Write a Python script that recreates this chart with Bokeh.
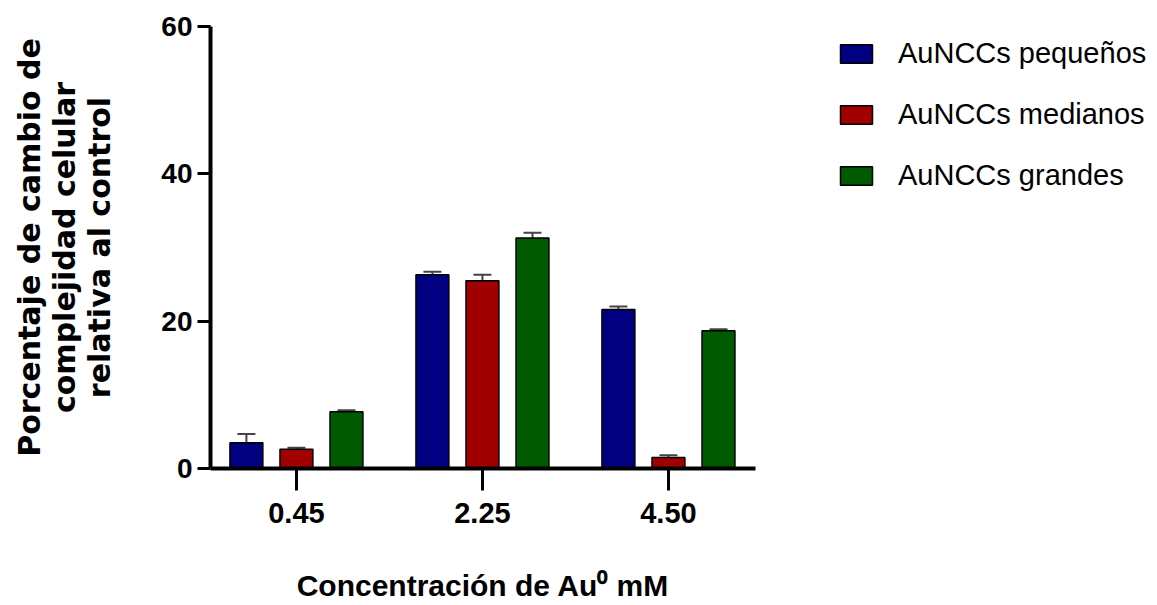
from bokeh.plotting import figure
from bokeh.layouts import row
from bokeh.models import (ColumnDataSource, Range1d, FixedTicker, Whisker,
                          Legend, LegendItem, TeeHead)
from bokeh.embed import file_html
from bokeh.resources import INLINE

categories = ["0.45", "2.25", "4.50"]
series_names = ["AuNCCs pequeños", "AuNCCs medianos", "AuNCCs grandes"]
pequenos = [3.5, 26.3, 21.6]
pequenos_err = [1.2, 0.4, 0.4]
medianos = [2.6, 25.5, 1.5]
medianos_err = [0.2, 0.8, 0.3]
grandes = [7.7, 31.3, 18.7]
grandes_err = [0.2, 0.7, 0.2]
y_ticks = [0, 20, 40, 60]

colors = ["#000080", "#a00000", "#005a00"]
offsets = [-0.269, 0.0, 0.269]
bar_w = 0.177

H = 605
p = figure(width=760, height=H, output_backend="svg", toolbar_location=None,
           x_range=Range1d(-0.462, 2.468), y_range=Range1d(0, 60),
           min_border_left=210, min_border_right=5, min_border_top=26,
           min_border_bottom=137)
p.outline_line_color = None
p.xgrid.grid_line_color = None
p.ygrid.grid_line_color = None
p.background_fill_color = "white"
p.border_fill_color = "white"

font = "Liberation Sans"

p.yaxis.ticker = FixedTicker(ticks=y_ticks)
p.yaxis.minor_tick_line_color = None
p.yaxis.major_tick_out = 13
p.yaxis.major_tick_in = 0
p.yaxis.major_tick_line_width = 3
p.yaxis.axis_line_width = 4
p.yaxis.major_label_text_font = font
p.yaxis.major_label_text_font_style = "bold"
p.yaxis.major_label_text_font_size = "28px"
p.yaxis.major_label_text_color = "black"
p.yaxis.major_label_standoff = 5
p.yaxis.axis_label = "Porcentaje de cambio de\ncomplejidad celular\nrelativa al control"
p.yaxis.axis_label_text_font = "DejaVu Sans"
p.yaxis.axis_label_text_font_style = "bold"
p.yaxis.axis_label_text_font_size = "30px"
p.yaxis.axis_label_text_line_height = 1.0
p.yaxis.axis_label_text_color = "black"
p.yaxis.axis_label_standoff = 41

p.xaxis.ticker = FixedTicker(ticks=list(range(len(categories))))
p.xaxis.major_label_overrides = {i: c for i, c in enumerate(categories)}
p.xaxis.minor_tick_line_color = None
p.xaxis.major_tick_out = 22
p.xaxis.major_tick_in = 0
p.xaxis.major_tick_line_width = 3
p.xaxis.axis_line_width = 4
p.xaxis.major_label_text_font = font
p.xaxis.major_label_text_font_style = "bold"
p.xaxis.major_label_text_font_size = "29px"
p.xaxis.major_label_text_color = "black"
p.xaxis.major_label_standoff = 12
p.xaxis.axis_label = "Concentración de Au\u2070 mM"
p.xaxis.axis_label_text_font = font
p.xaxis.axis_label_text_font_style = "bold"
p.xaxis.axis_label_text_font_size = "30px"
p.xaxis.axis_label_text_color = "black"
p.xaxis.axis_label_standoff = 43

series = [(pequenos, pequenos_err), (medianos, medianos_err), (grandes, grandes_err)]

# legend panel: a second figure sharing the series sources, showing only the legend
q = figure(width=397, height=H, output_backend="svg", toolbar_location=None,
           x_range=Range1d(0, 1), y_range=Range1d(0, 1),
           min_border_left=0, min_border_right=0, min_border_top=0,
           min_border_bottom=0)
q.axis.visible = False
q.grid.visible = False
q.outline_line_color = None

items = []
for (vals, errs), name, col, off in zip(series, series_names, colors, offsets):
    xs = [i + off for i in range(len(categories))]
    src = ColumnDataSource(dict(x=xs, top=vals, upper=[v + e for v, e in zip(vals, errs)]))
    p.vbar(x="x", top="top", width=bar_w, bottom=0, source=src,
           fill_color=col, line_color="black", line_width=1.5)
    wk = Whisker(base="x", upper="upper", lower="top", source=src,
                 line_color="#444444", line_width=2,
                 upper_head=TeeHead(size=18, line_color="#444444", line_width=2),
                 lower_head=None)
    p.add_layout(wk)
    key = q.vbar(x="x", top="top", width=bar_w, bottom=0, source=src,
                 fill_color=col, line_color="black", line_width=1.5, visible=False)
    items.append(LegendItem(label=name, renderers=[key]))

legend = Legend(items=items, location=(76, 276), orientation="vertical",
                glyph_width=40, glyph_height=23, label_height=23,
                label_standoff=22, spacing=28, padding=0, margin=0,
                border_line_color=None, background_fill_alpha=0,
                inactive_fill_alpha=0,
                label_text_font=font, label_text_font_size="29px",
                label_text_color="black")
q.add_layout(legend, "center")

open("out.html", "w").write(file_html(row(p, q, spacing=0), INLINE))
